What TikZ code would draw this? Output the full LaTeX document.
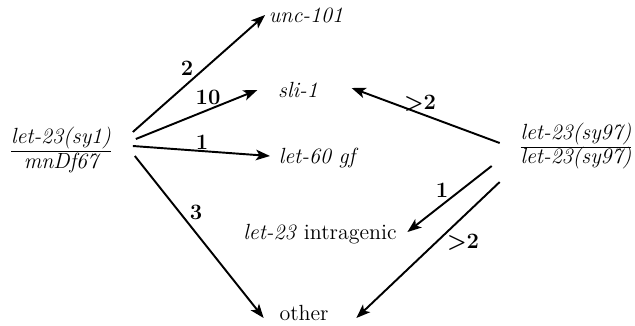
\documentclass[tikz,border=0pt]{standalone}
\usetikzlibrary{arrows.meta,calc}

\begin{document}
\begin{tikzpicture}[x=0.02cm,y=-0.02cm,
  every node/.style={font=\fontsize{12.5}{15}\selectfont},
  gene/.style={inner sep=2pt},
  num/.style={inner sep=0pt,font=\fontsize{12.5}{15}\selectfont\bfseries},
  arr/.style={line width=1.1pt,-{Stealth[length=8pt,width=6pt,inset=2pt]}}]
\useasboundingbox (0,0) rectangle (635,325);

%strains
\node[gene,align=center] (L) at (61,150) {\underline{\itshape let-23(sy1)}\\[-1pt]\itshape mnDf67};
\node[gene,align=center] (R) at (576,146) {\underline{\itshape let-23(sy97)}\\[-1pt]\itshape let-23(sy97)};

%suppressors
\node[gene] (unc) at (306,15) {\itshape unc-101};
\node[gene] (sli) at (298,90) {\itshape sli-1};
\node[gene] (let60) at (317,158) {\itshape let-60 gf};
\node[gene] (intra) at (320,234) {\textit{let-23} intragenic};
\node[gene] (other) at (304,313) {other};

%arrows from sy1
\draw[arr] ($(L.east)+(18,-18)$) -- (unc.west);
\draw[arr] ($(L.east)+(21,-11)$) -- ($(sli.west)+(-17,0)$);
\draw[arr] ($(L.east)+(18,-4)$) -- ($(let60.west)+(-5,-2)$);
\draw[arr] ($(L.east)+(20,6)$) -- ($(other.west)+(-12,5)$);

%arrows from sy97
\draw[arr] ($(R.west)+(-17,-3)$) -- ($(sli.east)+(30,-2)$);
\draw[arr] ($(R.west)+(-25,20)$) -- ($(intra.east)+(7,-2)$);
\draw[arr] ($(R.west)+(-17,36)$) -- ($(other.east)+(24,5)$);

%numbers
\node[num] (n1) at (187,68) {2};
\node[num] (n2) at (208,97) {10};
\node[num] (n3) at (202,142) {1};
\node[num] (n4) at (196,212) {3};
\node[num] (n5) at (420,103) {>2};
\node[num] (n6) at (442,190) {1};
\node[num] (n7) at (463,242) {>2};
\end{tikzpicture}
\end{document}
